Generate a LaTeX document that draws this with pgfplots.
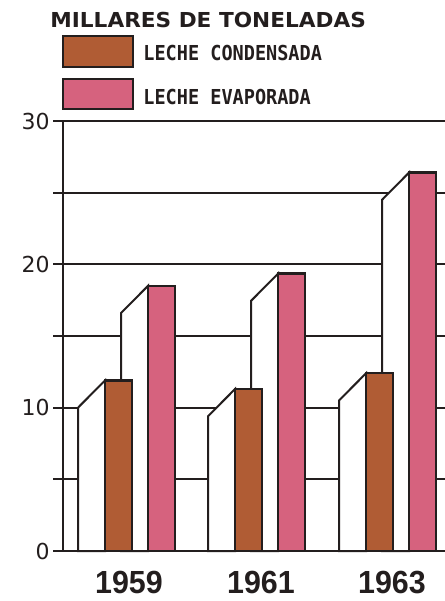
\documentclass[border=0pt]{standalone}
\usepackage{fontspec}
\usepackage{pgfplots}
\pgfplotsset{compat=1.18}
\setmainfont{DejaVu Sans}
\newfontfamily\titlefont[FakeStretch=1.05]{DejaVu Sans}
\newfontfamily\legfont[FakeStretch=0.90]{DejaVu Sans Mono}
\newfontfamily\yearfont[FakeStretch=0.95]{Liberation Sans}
\newfontfamily\tickfont{DejaVu Sans}
\definecolor{cond}{RGB}{176,92,52}
\definecolor{evap}{RGB}{214,98,126}
\definecolor{ink}{RGB}{35,30,30}
\begin{document}
\begin{tikzpicture}
\path[use as bounding box] (0,0) rectangle (222.5pt,-300.5pt);
\begin{axis}[
  at={(31.5pt,-275.5pt)}, anchor=south west,
  scale only axis, width=191pt, height=215pt,
  xmin=63, xmax=445, ymin=0, ymax=30,
  axis x line*=bottom, axis y line*=left,
  axis line style={ink, line width=1pt},
  xtick={129,261,392}, xticklabels={1959,1961,1963},
  ytick={0,5,...,30}, yticklabels={0,,10,,20,,30},
  ymajorgrids, grid style={ink, line width=1pt},
  tick align=outside, major tick length=5pt,
  ytick style={ink, line width=1pt},
  xtick style={draw=none},
  yticklabel style={font=\tickfont\fontsize{11}{13}\selectfont, text=ink, inner sep=0pt, xshift=-1.5pt},
  xticklabel style={font=\yearfont\bfseries\fontsize{16}{19}\selectfont, text=ink, anchor=base, inner sep=0pt, yshift=-16pt},
  clip=false,
]
% pink (evaporada) side faces
\addplot[fill=white, draw=ink, line width=1pt] coordinates {(121,0) (121,16.6) (148,18.5) (148,0)} \closedcycle;
\addplot[fill=white, draw=ink, line width=1pt] coordinates {(251,0) (251,17.45) (278,19.35) (278,0)} \closedcycle;
\addplot[fill=white, draw=ink, line width=1pt] coordinates {(382,0) (382,24.5) (409,26.4) (409,0)} \closedcycle;
% pink fronts
\addplot[ybar, bar width=13.5pt, bar shift=0pt, fill=evap, draw=ink, line width=1.2pt] coordinates {(161.5,18.5) (291.5,19.35) (422.5,26.4)};
% brown (condensada) side faces
\addplot[fill=white, draw=ink, line width=1pt] coordinates {(78,0) (78,10.0) (105,11.9) (105,0)} \closedcycle;
\addplot[fill=white, draw=ink, line width=1pt] coordinates {(208,0) (208,9.4) (235,11.3) (235,0)} \closedcycle;
\addplot[fill=white, draw=ink, line width=1pt] coordinates {(339,0) (339,10.5) (366,12.4) (366,0)} \closedcycle;
% brown fronts
\addplot[ybar, bar width=13.5pt, bar shift=0pt, fill=cond, draw=ink, line width=1.2pt] coordinates {(118.5,11.9) (248.5,11.3) (379.5,12.4)};
\end{axis}
% title and legend
\node[anchor=base west, inner sep=0pt, text=ink] at (25pt,-13.7pt) {\titlefont\bfseries\fontsize{10.3}{12}\selectfont MILLARES DE TONELADAS};
\draw[fill=cond, draw=ink, line width=1.3pt] (31.5pt,-18pt) rectangle (66.5pt,-33.5pt);
\draw[fill=evap, draw=ink, line width=1.3pt] (31.5pt,-39.5pt) rectangle (66.5pt,-54.5pt);
\node[anchor=base west, inner sep=0pt, text=ink] at (71.5pt,-30pt) {\legfont\bfseries\fontsize{10.3}{12}\selectfont LECHE CONDENSADA};
\node[anchor=base west, inner sep=0pt, text=ink] at (71.5pt,-52pt) {\legfont\bfseries\fontsize{10.3}{12}\selectfont LECHE EVAPORADA};
\end{tikzpicture}
\end{document}
